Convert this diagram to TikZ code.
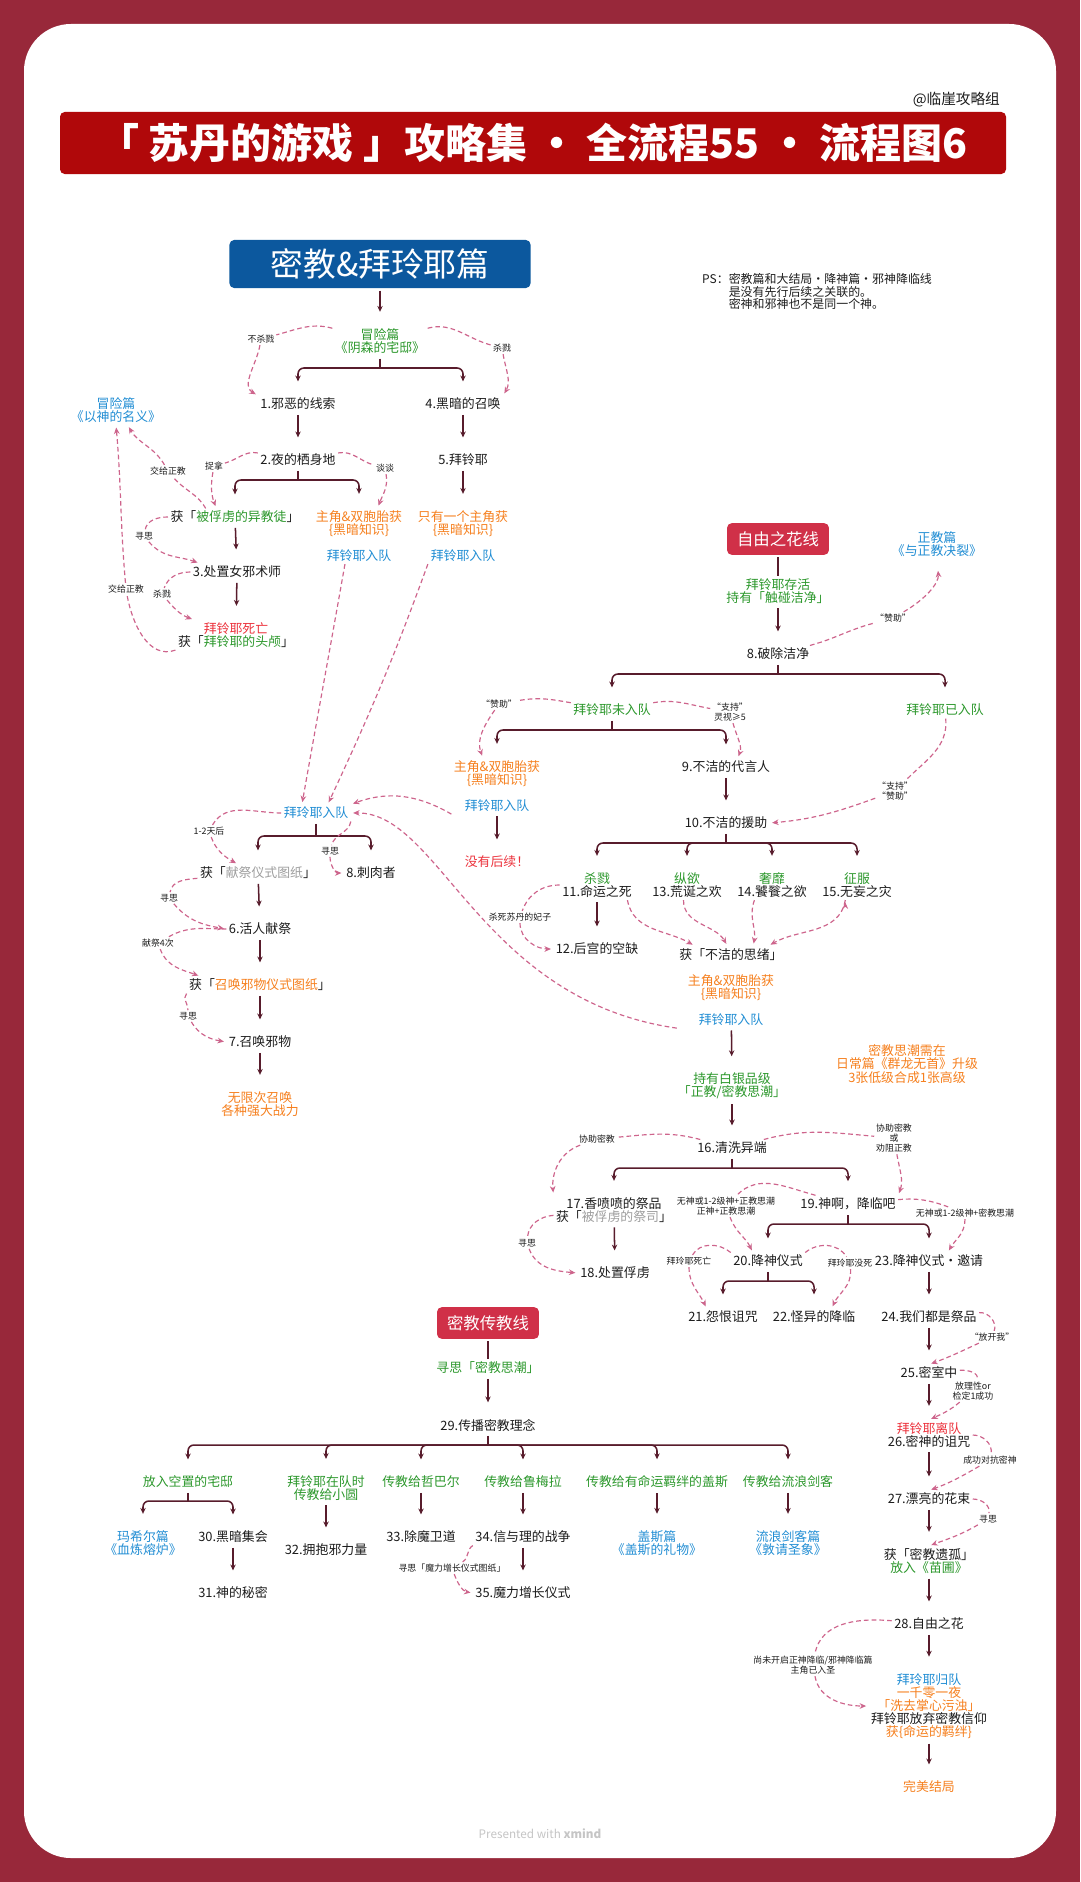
\documentclass[tikz,border=0pt]{standalone}
\usepackage{fontspec}
\setmainfont{Noto Sans CJK SC}
\usepackage{tikz}
\usetikzlibrary{arrows.meta}

\definecolor{bgred}{RGB}{152,40,58}
\definecolor{titlered}{RGB}{176,8,10}
\definecolor{boxblue}{RGB}{12,88,158}
\definecolor{boxred}{RGB}{208,48,72}
\definecolor{treeline}{RGB}{88,28,44}
\definecolor{dashpink}{RGB}{206,100,140}
\definecolor{grn}{RGB}{44,152,44}
\definecolor{org}{RGB}{246,128,30}
\definecolor{blu}{RGB}{34,142,212}
\definecolor{rd}{RGB}{236,50,60}
\definecolor{gry}{RGB}{158,158,158}
\definecolor{ink}{RGB}{28,28,28}

\newcommand{\gtext}[1]{\textcolor{grn}{#1}}
\newcommand{\otext}[1]{\textcolor{org}{#1}}
\newcommand{\btext}[1]{\textcolor{blu}{#1}}
\newcommand{\rtext}[1]{\textcolor{rd}{#1}}
\newcommand{\ytext}[1]{\textcolor{gry}{#1}}

\begin{document}
\begin{tikzpicture}[
                    x=0.03cm,
                    y=-0.03cm,
                    font=\fontsize{11}{11.2}\selectfont,
                    tline/.style={draw=treeline, line width=1.3pt, shorten <=2pt},
                    tarrow/.style={tline, shorten >=12pt, -{Stealth[length=5pt,width=4.6pt]}},
                    bracket/.style={draw=treeline, line width=1.3pt, shorten >=12pt, rounded corners=5pt, -{Stealth[length=5pt,width=4.6pt]}, to path={-| (\tikztotarget) \tikztonodes}},
                    dline/.style={draw=dashpink, line width=1pt, dash pattern=on 4pt off 2.6pt},
                    darrow/.style={dline, shorten >=2pt, -{Stealth[length=5.5pt,width=4.8pt]}}
                ]
                \tikzstyle{topic}=[inner sep=2pt, text=ink, align=center]
                \tikzstyle{cond}=[inner sep=1.5pt, text=ink, align=center, font=\fontsize{7.6}{8.6}\selectfont]
                \tikzstyle{bluebox}=[fill=boxblue, rounded corners=4pt, text=white, minimum width=257pt, minimum height=41pt, font=\fontsize{28}{30}\selectfont]
                \tikzstyle{redbox}=[fill=boxred, rounded corners=4pt, text=white, minimum width=87pt, minimum height=27pt, font=\fontsize{14}{16}\selectfont]

                \useasboundingbox (0,0) rectangle (1080,1882);
                \fill[bgred] (0,0) rectangle (1080,1882);
                \fill[white, rounded corners=40pt] (24,24) rectangle (1056,1858);
                \fill[titlered, rounded corners=4pt] (60,112) rectangle (1006,174);

                \node[text=white, font=\fontsize{35}{36}\selectfont\bfseries] (title) at (533,143) {「 苏丹的游戏 」攻略集 · 全流程55 · 流程图6};
                \node[anchor=east, text=ink, font=\fontsize{12.5}{13}\selectfont] (credit) at (1004,100) {@临崖攻略组};
                \node[anchor=north west, align=left, inner sep=0pt, text=ink, font=\fontsize{10.2}{10.8}\selectfont] (ps) at (702,273)
                    {PS：密教篇和大结局·降神篇·邪神降临线\\\hphantom{PS：}是没有先行后续之关联的。\\\hphantom{PS：}密神和邪神也不是同一个神。};

                % 密教 & 拜玲耶篇
                \node[bluebox] (cult) at (380,264) {密教\&拜玲耶篇};
                \node[topic, text=grn] (adv1) at (380,341) {冒险篇\\《阴森的宅邸》};
                \node[topic] (n1) at (298,404) {1.邪恶的线索};
                \node[topic] (n4) at (463,404) {4.黑暗的召唤};
                \node[topic] (n2) at (298,460) {2.夜的栖身地};
                \node[topic] (n5) at (463,460) {5.拜铃耶};
                \node[topic] (ob1) at (235,517) {获「\gtext{被俘虏的异教徒}」};
                \node[topic, text=org] (k1) at (359,536) {主角\&双胞胎获\\\{黑暗知识\}\\[11pt]\btext{拜铃耶入队}};
                \node[topic, text=org] (k2) at (463,536) {只有一个主角获\\\{黑暗知识\}\\[11pt]\btext{拜铃耶入队}};
                \node[topic, text=blu] (adv2) at (116,410) {冒险篇\\《以神的名义》};
                \node[topic] (n3) at (237,572) {3.处置女邪术师};
                \node[topic] (death) at (236,635) {\rtext{拜铃耶死亡}\\获「\gtext{拜铃耶的头颅}」};

                \node[topic, text=blu] (bly) at (316,813) {拜玲耶入队};
                \node[topic] (ob2) at (258,873) {获「\ytext{献祭仪式图纸}」};
                \node[topic] (n8) at (371,873) {8.刺肉者};
                \node[topic] (n6) at (260,929) {6.活人献祭};
                \node[topic] (ob3) at (260,985) {获「\otext{召唤邪物仪式图纸}」};
                \node[topic] (n7) at (260,1042) {7.召唤邪物};
                \node[topic, text=org] (inf) at (260,1104) {无限次召唤\\各种强大战力};

                % 自由之花线
                \node[redbox] (flower) at (778,539) {自由之花线};
                \node[topic, text=grn] (alive) at (778,591) {拜铃耶存活\\持有「触碰洁净」};
                \node[topic, text=blu] (zj) at (937,544) {正教篇\\《与正教决裂》};
                \node[topic] (n8p) at (778,654) {8.破除洁净};
                \node[topic, text=grn] (unj) at (612,710) {拜铃耶未入队};
                \node[topic, text=grn] (joi) at (945,710) {拜铃耶已入队};
                \node[topic, text=org] (k3) at (497,786) {主角\&双胞胎获\\\{黑暗知识\}\\[11pt]\btext{拜铃耶入队}};
                \node[topic] (n9) at (726,767) {9.不洁的代言人};
                \node[topic, text=rd] (nofollow) at (497,862) {没有后续！};
                \node[topic] (n10) at (726,823) {10.不洁的援助};
                \node[topic] (n11) at (597,885) {\gtext{杀戮}\\11.命运之死};
                \node[topic] (n13) at (687,885) {\gtext{纵欲}\\13.荒诞之欢};
                \node[topic] (n14) at (772,885) {\gtext{奢靡}\\14.饕餮之欲};
                \node[topic] (n15) at (857,885) {\gtext{征服}\\15.无妄之灾};
                \node[topic] (n12) at (597,949) {12.后宫的空缺};
                \node[topic] (th) at (731,987) {获「不洁的思绪」\\[11pt]\otext{主角\&双胞胎获}\\\otext{\{黑暗知识\}}\\[11pt]\btext{拜铃耶入队}};
                \node[topic, text=grn] (silver) at (732,1086) {持有白银品级\\「正教/密教思潮」};
                \node[topic, text=org] (note) at (907,1064) {密教思潮需在\\日常篇《群龙无首》升级\\3张低级合成1张高级};
                \node[topic] (n16) at (732,1148) {16.清洗异端};
                \node[topic] (n17) at (614,1210) {17.香喷喷的祭品\\获「\ytext{被俘虏的祭司}」};
                \node[topic] (n19) at (848,1204) {19.神啊，降临吧};
                \node[topic] (n18) at (615,1273) {18.处置俘虏};
                \node[topic] (n20) at (768,1261) {20.降神仪式};
                \node[topic] (n23) at (929,1261) {23.降神仪式·邀请};
                \node[topic] (n21) at (723,1317) {21.怨恨诅咒};
                \node[topic] (n22) at (814,1317) {22.怪异的降临};
                \node[topic] (n24) at (929,1317) {24.我们都是祭品};
                \node[topic] (n25) at (929,1373) {25.密室中};
                \node[topic] (n26) at (929,1435) {\rtext{拜铃耶离队}\\26.密神的诅咒};
                \node[topic] (n27) at (929,1499) {27.漂亮的花束};
                \node[topic] (ob5) at (929,1561) {获「密教遗孤」\\\gtext{放入《苗圃》}};
                \node[topic] (n28) at (929,1624) {28.自由之花};
                \node[topic] (fin) at (929,1706) {\btext{拜玲耶归队}\\\otext{一千零一夜}\\\otext{「洗去掌心污浊」}\\拜铃耶放弃密教信仰\\\otext{获\{命运的羁绊\}}};
                \node[topic, text=org] (perfect) at (929,1787) {完美结局};

                % 密教传教线
                \node[redbox] (mission) at (488,1323) {密教传教线};
                \node[topic, text=grn] (think) at (488,1368) {寻思「密教思潮」};
                \node[topic] (n29) at (488,1425) {29.传播密教理念};
                \node[topic, text=grn] (house) at (188,1482) {放入空置的宅邸};
                \node[topic, text=grn] (xiao) at (326,1488) {拜铃耶在队时\\传教给小圆};
                \node[topic, text=grn] (zheba) at (421,1482) {传教给哲巴尔};
                \node[topic, text=grn] (lumei) at (523,1482) {传教给鲁梅拉};
                \node[topic, text=grn] (gais) at (657,1482) {传教给有命运羁绊的盖斯};
                \node[topic, text=grn] (sword) at (788,1482) {传教给流浪剑客};
                \node[topic, text=blu] (mahil) at (143,1543) {玛希尔篇\\《血炼熔炉》};
                \node[topic] (n30) at (233,1537) {30.黑暗集会};
                \node[topic] (n31) at (233,1593) {31.神的秘密};
                \node[topic] (n32) at (326,1550) {32.拥抱邪力量};
                \node[topic] (n33) at (421,1537) {33.除魔卫道};
                \node[topic] (n34) at (523,1537) {34.信与理的战争};
                \node[topic] (n35) at (523,1593) {35.魔力增长仪式};
                \node[topic, text=blu] (gaisp) at (657,1543) {盖斯篇\\《盖斯的礼物》};
                \node[topic, text=blu] (swordp) at (788,1543) {流浪剑客篇\\《敦请圣象》};

                \node[text=gry!60, font=\fontsize{10}{12}\selectfont] (xmind) at (540,1834) {Presented with \textbf{xmind}};

                % condition labels
                \node[cond] (l-nokill) at (261,339) {不杀戮};
                \node[cond] (l-kill1) at (502,348) {杀戮};
                \node[cond] (l-catch) at (214,466) {捉拿};
                \node[cond] (l-talk) at (385,468) {谈谈};
                \node[cond] (l-give1) at (168,471) {交给正教};
                \node[cond] (l-think1) at (144,536) {寻思};
                \node[cond] (l-kill2) at (162,594) {杀戮};
                \node[cond] (l-give2) at (126,589) {交给正教};
                \node[cond] (l-days) at (209,831) {1-2天后};
                \node[cond] (l-think2) at (330,851) {寻思};
                \node[cond] (l-think3) at (169,898) {寻思};
                \node[cond] (l-4times) at (158,943) {献祭4次};
                \node[cond] (l-think4) at (188,1016) {寻思};
                \node[cond] (l-spon1) at (499,704) {“赞助”};
                \node[cond] (l-sup1) at (730,712) {“支持”\\灵视≥5};
                \node[cond] (l-sup2) at (895,791) {“支持”\\“赞助”};
                \node[cond] (l-spon2) at (893,618) {“赞助”};
                \node[cond] (l-killconc) at (520,917) {杀死苏丹的妃子};
                \node[cond] (l-assist1) at (597,1139) {协助密教};
                \node[cond] (l-assist2) at (894,1138) {协助密教\\或\\劝阻正教};
                \node[cond] (l-cond1) at (726,1206) {无神或1-2级神+正教思潮\\正神+正教思潮};
                \node[cond] (l-cond2) at (965,1213) {无神或1-2级神+密教思潮};
                \node[cond] (l-died) at (689,1261) {拜玲耶死亡};
                \node[cond] (l-alive) at (850,1263) {拜玲耶没死};
                \node[cond] (l-think5) at (527,1243) {寻思};
                \node[cond] (l-free) at (992,1337) {“放开我”};
                \node[cond] (l-san) at (973,1391) {放理性or\\检定1成功};
                \node[cond] (l-resist) at (990,1460) {成功对抗密神};
                \node[cond] (l-think6) at (988,1519) {寻思};
                \node[cond] (l-notyet) at (813,1665) {尚未开启正神降临/邪神降临篇\\主角已入圣};
                \node[cond] (l-think7) at (452,1568) {寻思「魔力增长仪式图纸」};

                % bars of the brackets
                \coordinate (b-adv1) at (380,368);
                \coordinate (b-n2) at (298,480);
                \coordinate (b-bly) at (316,836);
                \coordinate (b-n8p) at (778,674);
                \coordinate (b-unj) at (612,730);
                \coordinate (b-n10) at (726,843);
                \coordinate (b-n16) at (732,1168);
                \coordinate (b-n19) at (848,1224);
                \coordinate (b-n20) at (768,1281);
                \coordinate (b-n29) at (488,1445);
                \coordinate (b-house) at (188,1501);

                \path[tline]
                    (adv1) edge (b-adv1)
                    (n2) edge (b-n2)
                    (bly) edge (b-bly)
                    (n8p) edge (b-n8p)
                    (unj) edge (b-unj)
                    (n10) edge (b-n10)
                    (n16) edge (b-n16)
                    (n19) edge (b-n19)
                    (n20) edge (b-n20)
                    (n29) edge (b-n29)
                    (house) edge (b-house)
                    (flower) edge[shorten >=0pt] (alive)
                    (mission) edge[shorten >=0pt] (think)
                ;
                \path
                    (b-adv1) edge[bracket] (n1)
                    (b-adv1) edge[bracket] (n4)
                    (b-n2) edge[bracket] (ob1)
                    (b-n2) edge[bracket] (k1)
                    (b-bly) edge[bracket] (ob2)
                    (b-bly) edge[bracket] (n8)
                    (b-n8p) edge[bracket] (unj)
                    (b-n8p) edge[bracket] (joi)
                    (b-unj) edge[bracket] (k3)
                    (b-unj) edge[bracket] (n9)
                    (b-n10) edge[bracket] (n11)
                    (b-n10) edge[bracket] (n13)
                    (b-n10) edge[bracket] (n14)
                    (b-n10) edge[bracket] (n15)
                    (b-n16) edge[bracket] (n17)
                    (b-n16) edge[bracket] (n19)
                    (b-n19) edge[bracket] (n20)
                    (b-n19) edge[bracket] (n23)
                    (b-n20) edge[bracket] (n21)
                    (b-n20) edge[bracket] (n22)
                    (b-n29) edge[bracket] (house)
                    (b-n29) edge[bracket] (xiao)
                    (b-n29) edge[bracket] (zheba)
                    (b-n29) edge[bracket] (lumei)
                    (b-n29) edge[bracket] (gais)
                    (b-n29) edge[bracket] (sword)
                    (b-house) edge[bracket] (mahil)
                    (b-house) edge[bracket] (n30)
                ;
                \path[tarrow]
                    (cult) edge (adv1)
                    (n1) edge (n2)
                    (n4) edge (n5)
                    (n5) edge (k2)
                    (ob1) edge (n3)
                    (n3) edge (death)
                    (ob2) edge (n6)
                    (n6) edge (ob3)
                    (ob3) edge (n7)
                    (n7) edge (inf)
                    (alive) edge (n8p)
                    (k3) edge (nofollow)
                    (n9) edge (n10)
                    (n11) edge (n12)
                    (th) edge (silver)
                    (silver) edge (n16)
                    (n17) edge (n18)
                    (n23) edge (n24)
                    (n24) edge (n25)
                    (n25) edge (n26)
                    (n26) edge (n27)
                    (n27) edge (ob5)
                    (ob5) edge (n28)
                    (n28) edge (fin)
                    (fin) edge (perfect)
                    (think) edge (n29)
                    (n30) edge (n31)
                    (xiao) edge (n32)
                    (zheba) edge (n33)
                    (lumei) edge (n34)
                    (n34) edge (n35)
                    (gais) edge (gaisp)
                    (sword) edge (swordp)
                ;

                % dashed choices
                \path[dline]
                    (adv1) edge[out=165, in=15] (l-nokill)
                    (adv1) edge[out=15, in=165] (l-kill1)
                    (n2) edge[out=170, in=15] (l-catch)
                    (n2) edge[out=10, in=165] (l-talk)
                    ([xshift=-25pt]ob1.north) edge[out=120, in=-50] (l-give1)
                    (ob1) edge[out=180, in=80] (l-think1)
                    (n3) edge[out=180, in=70] (l-kill2)
                    (death.south west) edge[out=200, in=-80] (l-give2)
                    (bly) edge[out=180, in=60] (l-days)
                    (bly.south east) edge[out=-100, in=75] (l-think2)
                    (ob2) edge[out=185, in=80] (l-think3)
                    (n6) edge[out=180, in=30] (l-4times)
                    (ob3.south west) edge[out=-130, in=90] (l-think4)
                    (unj) edge[out=170, in=10] (l-spon1)
                    (unj) edge[out=10, in=170] (l-sup1)
                    (joi) edge[out=-85, in=45] (l-sup2)
                    (n8p) edge[out=15, in=195] (l-spon2)
                    (n11) edge[out=180, in=70] (l-killconc)
                    (n16) edge[out=165, in=5] (l-assist1)
                    (n16) edge[out=15, in=175] (l-assist2)
                    (n19) edge[out=165, in=45] (l-cond1)
                    (n19) edge[out=5, in=160] (l-cond2)
                    (n20.north west) edge[out=140, in=60] (l-died)
                    (n20.north east) edge[out=40, in=120] (l-alive)
                    (n17) edge[out=185, in=85] (l-think5)
                    (n24) edge[out=5, in=70] (l-free)
                    (n25) edge[out=5, in=70] (l-san)
                    (n26) edge[out=0, in=80] (l-resist)
                    (n27) edge[out=0, in=80] (l-think6)
                    (n28) edge[out=175, in=80] (l-notyet)
                    (n34.south west) edge[out=-150, in=30] (l-think7)
                ;
                \path[darrow]
                    (l-nokill) edge[out=-100, in=150] (n1.north west)
                    (l-kill1) edge[out=-80, in=60] (n4.north east)
                    (l-catch) edge[out=-100, in=110] ([xshift=-16pt]ob1.north)
                    (l-talk) edge[out=-80, in=70] ([xshift=16pt]k1.north)
                    (l-give1) edge[out=120, in=-60] ([xshift=10pt]adv2.south)
                    (l-think1) edge[out=-50, in=160] ([xshift=8pt]n3.north west)
                    (l-kill2) edge[out=-50, in=160] ([xshift=16pt]death.north west)
                    (l-give2) edge[out=95, in=-85] (adv2.south)
                    ([xshift=-12pt]k1.south) edge[out=-100, in=80] ([xshift=-12pt]bly.north)
                    ([xshift=-30pt]k2.south) edge[out=-110, in=65] ([xshift=10pt]bly.north)
                    (l-days) edge[out=-70, in=150] ([xshift=-17pt]ob2.north)
                    (l-think2) edge[out=-90, in=180] (n8.west)
                    (l-think3) edge[out=-50, in=170] (n6.west)
                    (l-4times) edge[out=-70, in=160] ([xshift=12pt]ob3.north west)
                    (l-think4) edge[out=-60, in=170] (n7.west)
                    (l-spon1) edge[out=-125, in=110] ([xshift=-12pt]k3.north)
                    (l-sup1) edge[out=-75, in=70] ([xshift=10pt]n9.north)
                    (k3.south west) edge[out=150, in=20] (bly.north east)
                    (l-sup2) edge[out=200, in=5] (n10.east)
                    (l-spon2) edge[out=30, in=-85, shorten >=10pt] (zj.south)
                    (l-killconc) edge[out=-90, in=180] (n12.west)
                    ([xshift=26pt]n11.south) edge[out=-80, in=150] ([xshift=-31pt]th.north)
                    ([xshift=-3pt]n13.south) edge[out=-90, in=120] ([xshift=-3pt]th.north)
                    ([xshift=-15pt]n14.south) edge[out=-110, in=80] ([xshift=19pt]th.north)
                    ([xshift=-10pt]n15.south) edge[out=-100, in=30] ([xshift=32pt]th.north)
                    (l-assist1) edge[out=200, in=95] (n17.north west)
                    (l-assist2) edge[out=-80, in=70] (n19.north east)
                    (l-cond1) edge[out=-70, in=115] ([xshift=-13pt]n20.north)
                    (l-cond2) edge[out=-90, in=60] ([xshift=16pt]n23.north)
                    (l-died) edge[out=-90, in=115] ([xshift=-14pt]n21.north)
                    (l-alive) edge[out=-85, in=65] ([xshift=15pt]n22.north)
                    (l-think5) edge[out=-70, in=175] (n18.west)
                    (l-free) edge[out=-155, in=20] (n25.north)
                    (l-san) edge[out=-140, in=25] (n26.north)
                    (l-resist) edge[out=-150, in=20] (n27.north)
                    (l-think6) edge[out=-150, in=20] (ob5.north)
                    (l-notyet) edge[out=-80, in=180] (fin.west)
                    (l-think7) edge[out=-70, in=170] (n35.west)
                ;
                \draw[darrow] (th.south west) .. controls (480,1000) and (440,812) .. (bly.east);
            \end{tikzpicture}
\end{document}
